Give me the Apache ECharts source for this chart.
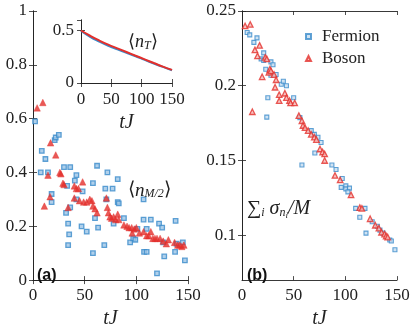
<!DOCTYPE html>
<html>
<head>
<meta charset="utf-8">
<script src="https://cdn.jsdelivr.net/npm/echarts@6/dist/echarts.min.js"></script>
<style>html,body{margin:0;padding:0;background:#fff}#c{width:416px;height:334px}</style>
</head>
<body>
<div id="c"></div>
<script>
// panel (a): <n_{M/2}> vs tJ
const fermionA = [[2,0.59],[7.5,0.40],[8.5,0.48],[12,0.45],[14.5,0.40],[18,0.32],[18,0.29],[21,0.52],[22,0.53],[25,0.54],[30,0.42],[32,0.25],[33,0.35],[34,0.21],[34,0.13],[35,0.17],[36,0.42],[36,0.27],[40.5,0.37],[42,0.39],[42,0.30],[47,0.20],[48,0.33],[52,0.18],[58,0.10],[58,0.36],[60,0.23],[62,0.425],[63,0.195],[69,0.13],[70,0.34],[71,0.30],[72,0.40],[77,0.34],[78,0.21],[82,0.29],[82,0.375],[83,0.285],[88,0.23],[94,0.14],[97,0.155],[99,0.15],[101,0.19],[107,0.30],[107,0.225],[107.5,0.105],[110,0.105],[110,0.19],[114,0.225],[120,0.025],[122,0.21],[125,0.195],[126,0.14],[127,0.088],[137.5,0.105],[138,0.22],[139,0.135],[145,0.14],[147,0.073]];
const bosonA = [[4,0.64],[9.5,0.66],[11,0.275],[14.5,0.39],[16.5,0.31],[17,0.51],[22,0.465],[26,0.40],[27,0.395],[29,0.36],[30,0.355],[34,0.27],[40,0.35],[40,0.305],[42,0.34],[44,0.34],[45,0.295],[48,0.365],[49,0.29],[52,0.29],[55,0.30],[57,0.295],[58,0.275],[60,0.265],[62,0.25],[71,0.305],[72,0.27],[73,0.25],[74.5,0.235],[76,0.23],[78,0.235],[80,0.225],[82,0.245],[83,0.225],[88,0.205],[91,0.20],[93,0.195],[95.5,0.195],[96,0.175],[98,0.19],[100,0.195],[103,0.175],[107,0.18],[110,0.165],[112,0.165],[114,0.18],[116,0.155],[118,0.155],[120,0.155],[123,0.155],[126,0.145],[129,0.135],[131,0.15],[137,0.14],[140,0.13],[142,0.13],[144,0.125],[146,0.13]];

// panel (b): sum_i sigma_{n_i}/M vs tJ
const fermionB = [[5,0.2356],[7.5,0.234],[11.5,0.229],[14.5,0.232],[18.5,0.218],[21,0.222],[21,0.217],[23,0.211],[24,0.179],[25,0.192],[28,0.216],[30,0.214],[28,0.207],[33,0.2075],[38,0.201],[40,0.203],[43,0.2],[50,0.192],[56,0.1787],[67,0.17],[70,0.1675],[73.5,0.1656],[76.5,0.162],[70.5,0.155],[58,0.147],[87,0.147],[91,0.144],[97,0.138],[96,0.132],[100.5,0.133],[100.5,0.131],[104,0.1315],[102.5,0.129],[110,0.118],[119,0.118],[114,0.112],[120,0.1014],[126,0.109],[131,0.106],[133.5,0.1034],[136.5,0.1014],[143,0.0968],[144.5,0.0962],[148,0.0903]];
const bosonB = [[3,0.240],[8,0.241],[10,0.1826],[12.5,0.224],[15,0.22],[17,0.227],[19.5,0.206],[22.5,0.219],[24,0.218],[26,0.209],[27,0.211],[28,0.21],[31,0.2075],[32,0.199],[33,0.204],[36,0.194],[36,0.19],[41.5,0.195],[43,0.192],[46,0.19],[47,0.1885],[51,0.1885],[55,0.18],[58,0.1766],[59,0.1734],[61,0.172],[64,0.17],[67,0.1675],[70,0.1656],[72,0.164],[75.5,0.1577],[78,0.1557],[80,0.1544],[80,0.150],[90,0.140],[95,0.137],[105.5,0.127],[114,0.1185],[116,0.118],[124,0.111],[129,0.1067],[132.5,0.1047],[135,0.102],[138,0.1008],[139.5,0.0995],[141,0.0988]];

// inset: <n_T>
const insetT = [0,15,30,45,60,75,90,105,120,135,150];
const nTFermion = [0.495,0.44,0.395,0.355,0.32,0.288,0.255,0.22,0.186,0.153,0.122];
const nTBoson = [0.50,0.45,0.405,0.365,0.33,0.295,0.26,0.225,0.19,0.156,0.125];

const yTicksB = [0.1,0.15,0.2,0.25];

const BLUE = '#3a8bcb', RED = '#e3302c';
const SERIF = 'Liberation Serif';

const chart = echarts.init(document.getElementById('c'));

const tickStyle = { inside: true, length: 4, lineStyle: { color: '#222', width: 0.8 } };
const lineStyle = { lineStyle: { color: '#222', width: 0.9 } };
const lab = { fontFamily: SERIF, fontSize: 17, color: '#222', hideOverlap: false };

function xPair(g, nameGap, margin) {
  return [
    { gridIndex: g, type: 'value', min: 0, max: 150, interval: 50, position: 'bottom',
      axisLine: lineStyle, axisTick: tickStyle, splitLine: { show: false },
      axisLabel: Object.assign({ margin: margin }, lab),
      name: 'tJ', nameLocation: 'middle', nameGap: nameGap,
      nameTextStyle: { fontFamily: SERIF, fontStyle: 'italic', fontSize: 20, color: '#222' } },
    { gridIndex: g, type: 'value', min: 0, max: 150, interval: 50, position: 'top',
      axisLine: lineStyle, axisTick: tickStyle, splitLine: { show: false }, axisLabel: { show: false } }
  ];
}

// y axis pair; ticks either from interval or from customValues
function yPair(g, min, max, opt, margin) {
  const tick = Object.assign({}, tickStyle), label = Object.assign({ margin: margin }, lab);
  const base = { gridIndex: g, type: 'value', min: min, max: max, axisLine: lineStyle, splitLine: { show: false } };
  if (opt.ticks) { tick.customValues = opt.ticks; label.customValues = opt.ticks; }
  else { base.interval = opt.interval; label.showMaxLabel = opt.showMax; }
  return [
    Object.assign({ position: 'left', axisTick: tick, axisLabel: label }, base),
    Object.assign({ position: 'right', axisTick: tick, axisLabel: { show: false } }, base)
  ];
}

const sqA = { color: '#9cc4e6', borderColor: BLUE, borderWidth: 1.3 };
const sqB = { color: '#c4dcf0', borderColor: BLUE, borderWidth: 1.1 };

chart.setOption({
  animation: false,
  grid: [
    { left: 33, top: 11, width: 155, height: 275, show: true, borderWidth: 0, backgroundColor: '#fff' },
    { left: 242, top: 11, width: 155, height: 275, show: true, borderWidth: 0, backgroundColor: '#fff' },
    { left: 81, top: 20, width: 91, height: 63, show: true, borderWidth: 0, backgroundColor: '#fff' }
  ],
  xAxis: [].concat(xPair(0, 28, 7), xPair(1, 28, 7), xPair(2, 30, 8)),
  yAxis: [].concat(
    yPair(0, 0, 1, { interval: 0.2, showMax: true }, 6),
    yPair(1, 0.07, 0.25, { ticks: yTicksB }, 6),
    yPair(2, 0, 0.6, { interval: 0.5, showMax: false }, 7)
  ),
  legend: {
    data: ['Fermion', 'Boson'], orient: 'vertical', left: 300, top: 23,
    itemWidth: 5, itemHeight: 5, itemGap: 5,
    textStyle: { fontFamily: SERIF, fontSize: 17, color: '#222', padding: [0,0,0,6] }
  },
  series: [
    { name: 'Fermion (a)', type: 'scatter', xAxisIndex: 0, yAxisIndex: 0, symbol: 'rect', symbolSize: 4.5,
      itemStyle: sqA, data: fermionA },
    { name: 'Boson (a)', type: 'scatter', xAxisIndex: 0, yAxisIndex: 0, symbol: 'triangle', symbolSize: 6.5,
      itemStyle: { color: RED, borderColor: RED, borderWidth: 0.5 }, data: bosonA },
    { name: 'Fermion', type: 'scatter', xAxisIndex: 2, yAxisIndex: 2, symbol: 'rect', symbolSize: 4,
      itemStyle: sqB, data: fermionB },
    { name: 'Boson', type: 'scatter', xAxisIndex: 2, yAxisIndex: 2, symbol: 'triangle', symbolSize: 5.5,
      itemStyle: { color: '#f4b5b3', borderColor: RED, borderWidth: 1.3 }, data: bosonB },
    { name: 'nT Fermion', type: 'line', xAxisIndex: 4, yAxisIndex: 4, smooth: true, symbol: 'none', z: 6,
      lineStyle: { color: BLUE, width: 2 }, data: insetT.map((t, i) => [t, nTFermion[i]]) },
    { name: 'nT Boson', type: 'line', xAxisIndex: 4, yAxisIndex: 4, smooth: true, symbol: 'none', z: 7,
      lineStyle: { color: RED, width: 2 }, data: insetT.map((t, i) => [t, nTBoson[i]]) }
  ],
  graphic: [
    { type: 'text', left: 128, top: 181, z: 10, style: {
      text: '⟨{it|n}{sub|M/2}⟩', fontFamily: SERIF, fontSize: 19, fill: '#222',
      rich: { it: { fontFamily: SERIF, fontStyle: 'italic', fontSize: 19 },
              sub: { fontFamily: SERIF, fontStyle: 'italic', fontSize: 12, padding: [7,0,0,0] } } } },
    { type: 'text', left: 128, top: 33, z: 10, style: {
      text: '⟨{it|n}{sub|T}⟩', fontFamily: SERIF, fontSize: 18, fill: '#222',
      rich: { it: { fontFamily: SERIF, fontStyle: 'italic', fontSize: 18 },
              sub: { fontFamily: SERIF, fontStyle: 'italic', fontSize: 12, padding: [7,0,0,0] } } } },
    { type: 'text', left: 247, top: 199, z: 10, style: {
      text: '∑{sub|i} {it|σ}{sub|n}{tiny|i}{it|/M}', fontFamily: SERIF, fontSize: 20, fill: '#222',
      rich: { it: { fontFamily: SERIF, fontStyle: 'italic', fontSize: 20 },
              sub: { fontFamily: SERIF, fontStyle: 'italic', fontSize: 12, padding: [8,0,0,0] },
              tiny: { fontFamily: SERIF, fontStyle: 'italic', fontSize: 9, padding: [13,0,0,0] } } } },
    { type: 'text', left: 37, top: 268, z: 10, style: {
      text: '(a)', font: 'bold 16px "Liberation Sans", Arial, sans-serif', fill: '#111' } },
    { type: 'text', left: 247, top: 268, z: 10, style: {
      text: '(b)', font: 'bold 16px "Liberation Sans", Arial, sans-serif', fill: '#111' } }
  ]
});
</script>
</body>
</html>
